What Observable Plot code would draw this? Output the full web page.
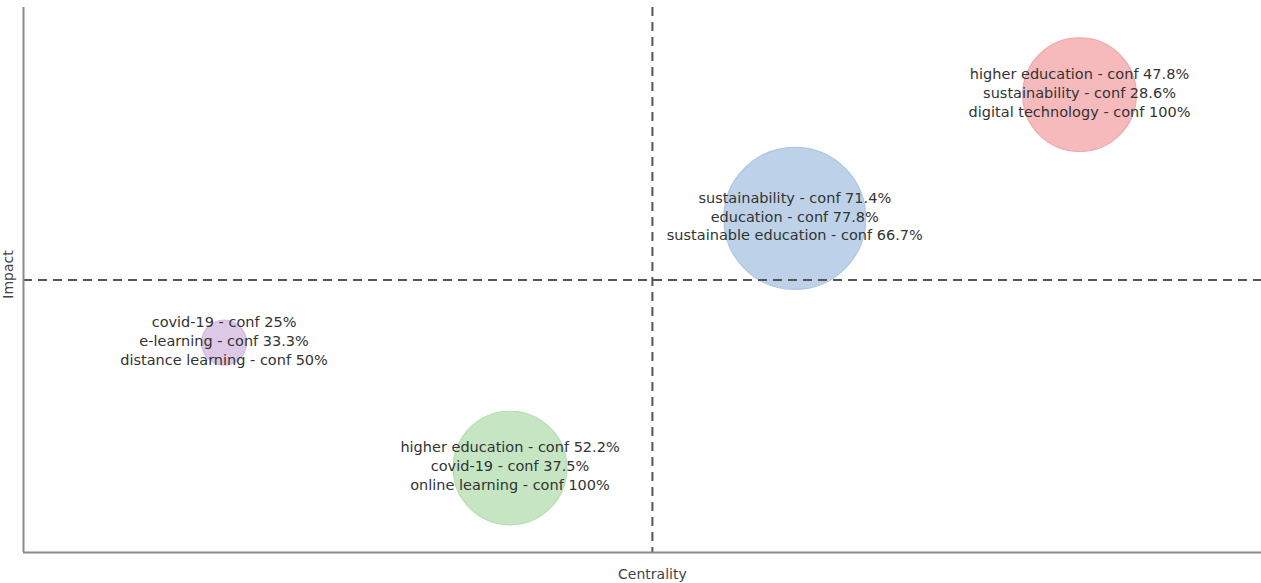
<!DOCTYPE html>
<html>
<head>
<meta charset="utf-8">
<script src="https://cdn.jsdelivr.net/npm/d3@7"></script>
<script src="https://cdn.jsdelivr.net/npm/@observablehq/plot@0.6"></script>
<style>
  html, body { margin: 0; padding: 0; background: #fff; }
  svg { display: block; }
</style>
</head>
<body>
<div id="chart"></div>
<script>
// Cluster data (centrality / impact on a 0–1 scale; size = relative cluster weight)
const clusters = ["red", "blue", "green", "purple"];
const centrality = [0.853, 0.623, 0.393, 0.162];
const impact = [0.840, 0.613, 0.155, 0.385];
const weight = [64, 100, 64, 10];
const labels = [
  "higher education - conf 47.8%\nsustainability - conf 28.6%\ndigital technology - conf 100%",
  "sustainability - conf 71.4%\neducation - conf 77.8%\nsustainable education - conf 66.7%",
  "higher education - conf 52.2%\ncovid-19 - conf 37.5%\nonline learning - conf 100%",
  "covid-19 - conf 25%\ne-learning - conf 33.3%\ndistance learning - conf 50%"
];
const fills = ["#f6b9bc", "#bdd2e8", "#c6e5c3", "#ddc8e6"];
const strokes = ["#f0a8ab", "#adc6e1", "#b5dcb1", "#d3badf"];
const xMid = 0.508;
const yMid = 0.5;

const data = clusters.map((c, i) => ({
  cluster: c, x: centrality[i], y: impact[i], w: weight[i], label: labels[i],
  fill: fills[i], stroke: strokes[i]
}));

const chart = Plot.plot({
  width: 1261,
  height: 583,
  marginLeft: 23,
  marginRight: 0,
  marginTop: 7,
  marginBottom: 31,
  style: { fontFamily: "DejaVu Sans, Verdana, sans-serif", fontSize: "14px", background: "#fff", overflow: "visible" },
  x: { domain: [0, 1], axis: null },
  y: { domain: [0, 1], axis: null },
  r: { type: "sqrt", domain: [0, 100], range: [0, 71] },
  marks: [
    Plot.dot(data, { x: "x", y: "y", r: "w", fill: (d) => d.fill, stroke: (d) => d.stroke, strokeWidth: 1.2 }),
    Plot.ruleX([xMid], { stroke: "#555", strokeWidth: 2, strokeDasharray: "9,6" }),
    Plot.ruleY([yMid], { stroke: "#555", strokeWidth: 2, strokeDasharray: "9,6" }),
    Plot.ruleX([0], { stroke: "#8a8a8a", strokeWidth: 2 }),
    Plot.ruleY([0], { stroke: "#8a8a8a", strokeWidth: 2 }),
    Plot.text(data, { x: "x", y: "y", text: "label", fill: "#333", fontSize: 14.5, lineHeight: 1.31, textAnchor: "middle", dy: -3 }),
    Plot.text(["Centrality"], { x: [xMid], frameAnchor: "bottom", dy: 26, fill: "#444", fontSize: 14 }),
    Plot.text(["Impact"], { x: [-0.0122], y: [0.51], rotate: -90, fill: "#444", fontSize: 14, clip: false })
  ]
});
document.getElementById("chart").appendChild(chart);
</script>
</body>
</html>
